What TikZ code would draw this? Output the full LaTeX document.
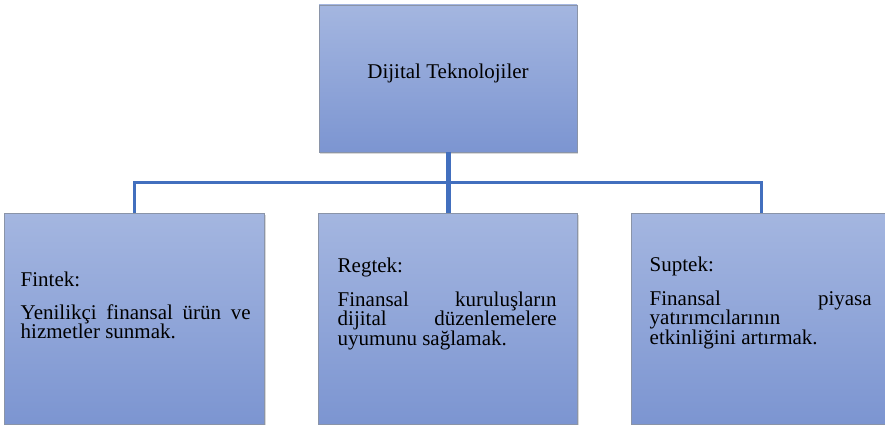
\documentclass[tikz,border=0pt]{standalone}
\usepackage{fontspec}
\setmainfont{Liberation Serif}
\usetikzlibrary{positioning, shadows, calc}

\definecolor{boxtop}{RGB}{164,182,224}
\definecolor{boxbottom}{RGB}{124,149,209}
\definecolor{boxline}{RGB}{138,148,168}
\definecolor{linkblue}{RGB}{66,111,190}

\tolerance=10000
\hyphenpenalty=10000

\begin{document}
\begin{tikzpicture}[
    x=1pt, y=-1pt,
    % Set distances between nodes
    node distance=61pt and 54pt,
    % Style for the shaded boxes
    box/.style={
        rectangle,
        draw=boxline,
        line width=0.8pt,
        top color=boxtop,
        bottom color=boxbottom,
        drop shadow={shadow xshift=1.2pt, shadow yshift=-1.5pt, fill=black!30},
        inner sep=0pt,
        outer sep=0pt,
        font=\fontsize{21pt}{19.5pt}\selectfont
    },
    % Style for the texts inside the lower boxes
    note/.style={
        inner sep=0pt,
        align=justify,
        font=\fontsize{21pt}{19.5pt}\selectfont
    },
    % Style for the connections
    trunk/.style={draw=linkblue, line width=5pt},
    branch/.style={draw=linkblue, line width=2.5pt}
]
\useasboundingbox (0,0) rectangle (885,425);

% 1. Place the boxes
\node[box, minimum width=258pt, minimum height=147pt, text depth=15pt] (digital) at (448,78.5) {Dijital Teknolojiler};
\node[box, minimum width=259pt, minimum height=211pt, below=of digital] (regtek) {};
\node[box, minimum width=260pt, minimum height=211pt, left=of regtek] (fintek) {};
\node[box, minimum width=260pt, minimum height=211pt, right=of regtek] (suptek) {};

% 2. Texts of the lower boxes
\node[note, text width=230pt, below right=59pt and 16pt of fintek.north west] (fintek_text)
    {Fintek:\par\vspace{13pt}Yenilikçi finansal ürün ve\linebreak hizmetler sunmak.};
\node[note, text width=219pt, below right=45pt and 19pt of regtek.north west] (regtek_text)
    {Regtek:\par\vspace{14pt}Finansal kuruluşların\linebreak dijital düzenlemelere\linebreak uyumunu sağlamak.};
\node[note, text width=222pt, below right=44pt and 18pt of suptek.north west] (suptek_text)
    {Suptek:\par\vspace{14pt}Finansal piyasa\linebreak yatırımcılarının\\ etkinliğini artırmak.};

% 3. Draw the connections
\coordinate (bus) at ($(digital.south)!0.5!(regtek.north)$);
\draw[branch] (fintek.north) |- (bus) -| (suptek.north);
\draw[trunk] (digital) -- (regtek);

\end{tikzpicture}
\end{document}
